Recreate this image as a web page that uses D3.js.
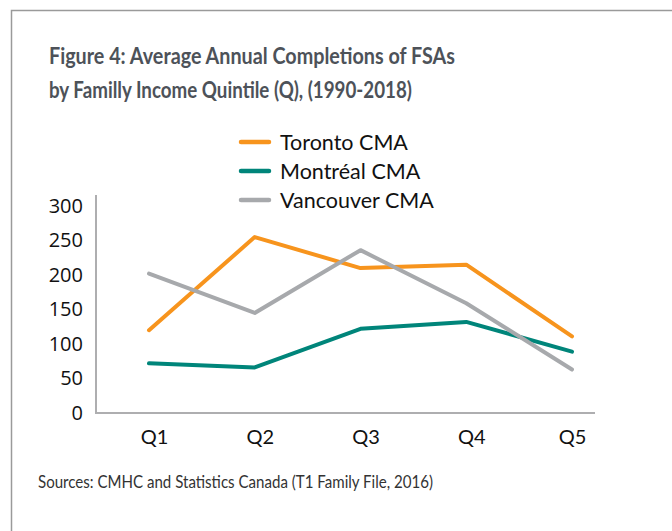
<!DOCTYPE html>
<html><head><meta charset="utf-8">
<script src="https://cdn.jsdelivr.net/npm/d3@7"></script>
<style>body{margin:0;background:#fff}svg{display:block}</style>
</head><body>
<svg id="c" width="672" height="531"></svg>
<script>
const categories = ["Q1","Q2","Q3","Q4","Q5"];
const seriesNames = ["Toronto CMA","Montréal CMA","Vancouver CMA"];
const toronto   = [120, 255, 210, 215, 111];
const montreal  = [72, 66, 122, 132, 89];
const vancouver = [202, 145, 236, 159, 63];
const yTicks = [0, 50, 100, 150, 200, 250, 300];
const colors = ["#F7941D", "#00857A", "#A7A9AC"];
const titleLines = ["Figure 4: Average Annual Completions of FSAs", "by Familly Income Quintile (Q), (1990-2018)"];
const sourceText = "Sources: CMHC and Statistics Canada (T1 Family File, 2016)";

const svg = d3.select("#c");
const series = [toronto, montreal, vancouver];

// frame
svg.append("path").attr("d","M11.5,531 L11.5,10.5 L672,10.5").attr("fill","none").attr("stroke","#9a9a9a").attr("stroke-width",1.5);

// title
svg.append("text").attr("x",49).attr("y",64).attr("font-family","Lato, sans-serif").attr("font-weight","bold")
  .attr("font-size",22.5).attr("fill","#4d5259").attr("textLength",406).attr("lengthAdjust","spacingAndGlyphs").text(titleLines[0]);
svg.append("text").attr("x",49).attr("y",97.5).attr("font-family","Lato, sans-serif").attr("font-weight","bold")
  .attr("font-size",22.5).attr("fill","#4d5259").attr("textLength",363).attr("lengthAdjust","spacingAndGlyphs").text(titleLines[1]);

const x = d3.scalePoint().domain(categories).range([149, 572]);
const y = d3.scaleLinear().domain([0, 300]).range([413, 206]);

// axes
const yAxis = svg.append("g").attr("transform","translate(96,0)")
  .call(d3.axisLeft(y).tickValues(yTicks).tickSize(0).tickPadding(13));
yAxis.select(".domain").remove();
yAxis.selectAll("text").attr("font-family","'Open Sans', sans-serif").attr("font-size",20).attr("fill","#111");
svg.append("line").attr("x1",96).attr("x2",96).attr("y1",195).attr("y2",413).attr("stroke","#aeaeb0").attr("stroke-width",2);

const xAxis = svg.append("g").attr("transform","translate(0,413)")
  .call(d3.axisBottom(x).tickSize(0).tickPadding(17));
xAxis.select(".domain").remove();
xAxis.selectAll("text").attr("font-family","Lato, sans-serif").attr("font-size",20).attr("fill","#111")
  .attr("dx", (d,i)=> i<4 ? 5 : 0);
svg.append("line").attr("x1",95).attr("x2",595).attr("y1",413).attr("y2",413).attr("stroke","#aeaeb0").attr("stroke-width",2);

// lines
const line = d3.line().x((d,i)=>x(categories[i])).y(d=>y(d));
series.forEach((s,k)=>{
  svg.append("path").datum(s).attr("d",line).attr("fill","none")
    .attr("stroke",colors[k]).attr("stroke-width",4).attr("stroke-linecap","round").attr("stroke-linejoin","round");
});

// legend
const legW = [135, 144, 158];
seriesNames.forEach((n,k)=>{
  const yy = 142 + k*29;
  svg.append("line").attr("x1",241).attr("x2",269).attr("y1",yy).attr("y2",yy)
    .attr("stroke",colors[k]).attr("stroke-width",4.5).attr("stroke-linecap","round");
  svg.append("text").attr("x",280).attr("y",yy+7.5).attr("font-family","Lato, sans-serif").attr("font-size",21.5).attr("fill","#111").text(n);
});

// source
svg.append("text").attr("x",38).attr("y",488).attr("font-family","Lato, sans-serif").attr("font-size",18)
  .attr("fill","#333").attr("textLength",395).attr("lengthAdjust","spacingAndGlyphs").text(sourceText);
</script>
</body></html>
